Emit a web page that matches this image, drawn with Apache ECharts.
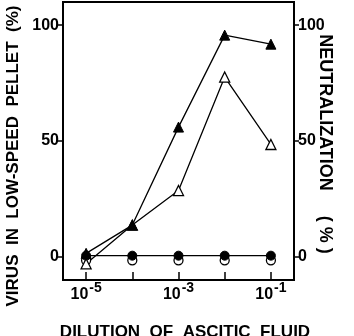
<!DOCTYPE html>
<html>
<head>
<meta charset="utf-8">
<script src="https://cdn.jsdelivr.net/npm/echarts@6.0.0/dist/echarts.min.js"></script>
<style>
  html, body { margin: 0; padding: 0; background: #fff; }
  #main { width: 354px; height: 336px; }
</style>
</head>
<body>
<div id="main"></div>
<script>
// dilution exponents (10^x)
var dilutionExp = [-5, -4, -3, -2, -1];
var xTickValues = [-5, -4, -3, -2, -1];
var xLabelValues = [-5, -3, -1];
var yTickValues = [0, 50, 100];

var pelletFilledTri = [1.5, 13.7, 56, 95.7, 91.8];
var neutOpenTri = [-3, 13.7, 28.6, 77.6, 48.5];
var filledCircle = [0.5, 0.5, 0.5, 0.5, 0.5];
var openCircle = [-1.5, -1.5, -1.5, -1.5, -1.5];

function pairs(ys) {
    return dilutionExp.map(function(x, i) { return [x, ys[i]]; });
}

var font = 'Liberation Sans, Arial, sans-serif';
var myChart = echarts.init(document.getElementById('main'));

function yAxisCfg(pos) {
    return {
        type: 'value',
        position: pos,
        min: -10,
        max: 110,
        splitLine: { show: false },
        axisLine: { show: true, lineStyle: { color: '#000', width: 2 } },
        axisTick: { show: true, inside: false, length: 5, customValues: yTickValues, lineStyle: { color: '#000', width: 1.5 } },
        axisLabel: { customValues: yTickValues, margin: 4, color: '#000', fontSize: 16, fontWeight: 'bold', fontFamily: font }
    };
}

var option = {
    animation: false,
    backgroundColor: '#fff',
    grid: { left: 63, right: 60, top: 2, bottom: 56, show: true, borderColor: '#000', borderWidth: 2 },
    xAxis: {
        type: 'value',
        min: -5.5,
        max: -0.5,
        splitLine: { show: false },
        axisLine: { show: true, onZero: false, lineStyle: { color: '#000', width: 2 } },
        axisTick: { show: true, inside: true, length: 8, customValues: xTickValues, lineStyle: { color: '#000', width: 1.5 } },
        axisLabel: {
            customValues: xLabelValues,
            margin: 1,
            color: '#000',
            formatter: function(v) { return '{b|10}{s|' + v + '}'; },
            rich: {
                b: { fontSize: 16, fontWeight: 'bold', fontFamily: font, lineHeight: 22, verticalAlign: 'bottom', color: '#000' },
                s: { fontSize: 14, fontWeight: 'bold', fontFamily: font, lineHeight: 22, verticalAlign: 'top', color: '#000', padding: [0, 0, 0, 1] }
            }
        }
    },
    yAxis: [yAxisCfg('left'), yAxisCfg('right')],
    graphic: [
        { type: 'text', x: 13, y: 156, rotation: Math.PI / 2,
          style: { text: 'VIRUS  IN  LOW-SPEED  PELLET  (%)', fill: '#000', font: 'bold 17px ' + font, textAlign: 'center', textVerticalAlign: 'middle' } },
        { type: 'text', x: 325, y: 144, rotation: -Math.PI / 2,
          style: { text: 'NEUTRALIZATION     ( % )', fill: '#000', font: 'bold 18px ' + font, textAlign: 'center', textVerticalAlign: 'middle' } },
        { type: 'text', x: 185, y: 332,
          style: { text: 'DILUTION  OF  ASCITIC  FLUID', fill: '#000', font: 'bold 17px ' + font, textAlign: 'center', textVerticalAlign: 'middle' } }
    ],
    series: [
        {
            name: 'open circle', type: 'line', data: pairs(openCircle),
            symbol: 'circle', symbolSize: 9,
            lineStyle: { width: 0 },
            itemStyle: { color: '#fff', borderColor: '#000', borderWidth: 1.3 }
        },
        {
            name: 'filled circle', type: 'line', data: pairs(filledCircle),
            symbol: 'circle', symbolSize: 9,
            lineStyle: { color: '#000', width: 1.3 },
            itemStyle: { color: '#000', borderColor: '#000' }
        },
        {
            name: 'neutralization', type: 'line', data: pairs(neutOpenTri),
            symbol: 'triangle', symbolSize: 10,
            lineStyle: { color: '#000', width: 1.3 },
            itemStyle: { color: '#fff', borderColor: '#000', borderWidth: 1.3 }
        },
        {
            name: 'pellet', type: 'line', data: pairs(pelletFilledTri),
            symbol: 'triangle', symbolSize: 10,
            lineStyle: { color: '#000', width: 1.3 },
            itemStyle: { color: '#000', borderColor: '#000' }
        }
    ]
};
myChart.setOption(option);
</script>
</body>
</html>
